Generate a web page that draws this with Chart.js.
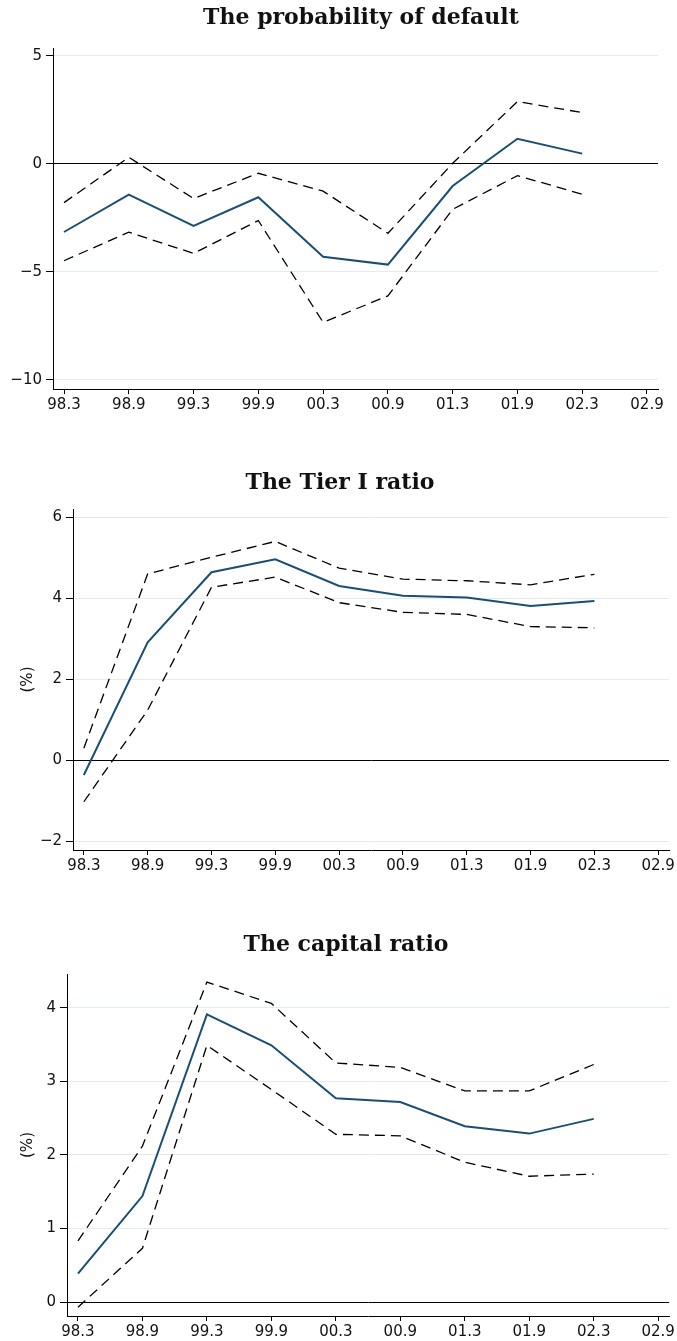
<!DOCTYPE html>
<html>
<head>
<meta charset="utf-8">
<script src="https://cdn.jsdelivr.net/npm/chart.js@4"></script>
<style>
  html, body { margin: 0; padding: 0; background: #fff; }
  .panel { position: absolute; left: 0; }
</style>
</head>
<body>
<canvas id="pdChart" class="panel" width="677" height="420" style="top:0px"></canvas>
<canvas id="tierChart" class="panel" width="677" height="420" style="top:460px"></canvas>
<canvas id="capChart" class="panel" width="677" height="421" style="top:920px"></canvas>
<script>
// x axis periods (last one has no data)
const periods = ['98.3', '98.9', '99.3', '99.9', '00.3', '00.9', '01.3', '01.9', '02.3', '02.9'];

// probability of default
const pdMean  = [-3.15, -1.42, -2.87, -1.54, -4.30, -4.66, -1.02, 1.17, 0.48];
const pdUpper = [-1.79, 0.31, -1.60, -0.43, -1.26, -3.21, 0.03, 2.89, 2.38];
const pdLower = [-4.48, -3.16, -4.14, -2.62, -7.33, -6.11, -2.10, -0.54, -1.40];
const pdTicks = [-10, -5, 0, 5];

// Tier I ratio
const tierMean  = [-0.36, 2.91, 4.64, 4.96, 4.30, 4.06, 4.02, 3.81, 3.93];
const tierUpper = [0.30, 4.60, 5.01, 5.40, 4.74, 4.47, 4.43, 4.33, 4.59];
const tierLower = [-1.02, 1.24, 4.27, 4.52, 3.89, 3.65, 3.60, 3.30, 3.27];
const tierTicks = [-2, 0, 2, 4, 6];

// capital ratio
const capMean  = [0.385, 1.44, 3.91, 3.49, 2.77, 2.72, 2.39, 2.29, 2.49];
const capUpper = [0.83, 2.12, 4.35, 4.06, 3.25, 3.19, 2.87, 2.87, 3.23];
const capLower = [-0.07, 0.73, 3.49, 2.89, 2.28, 2.26, 1.90, 1.71, 1.74];
const capTicks = [0, 1, 2, 3, 4];

const NAVY = '#1a4f73';
const GRID = '#e2ecf0';
const TICK_FONT = { family: 'DejaVu Sans', size: 15 };

// draws the panel heading where we want it, not centred on the canvas
const panelTitle = {
  id: 'panelTitle',
  afterDraw(chart, args, opts) {
    const ctx = chart.ctx;
    ctx.save();
    ctx.font = 'bold 22px "DejaVu Serif"';
    ctx.fillStyle = '#111';
    ctx.textAlign = 'center';
    ctx.textBaseline = 'middle';
    ctx.fillText(opts.text, opts.x, opts.y);
    ctx.restore();
  }
};

function points(values) {
  return values.map((v, i) => ({ x: i, y: v }));
}

function makePanel(id, cfg) {
  new Chart(document.getElementById(id), {
    type: 'line',
    data: {
      datasets: [
        { data: points(cfg.mean), borderColor: NAVY, borderWidth: 2, pointRadius: 0 },
        { data: points(cfg.upper), borderColor: '#000', borderWidth: 1.3, borderDash: [10, 6], pointRadius: 0 },
        { data: points(cfg.lower), borderColor: '#000', borderWidth: 1.3, borderDash: [10, 6], pointRadius: 0 }
      ]
    },
    options: {
      responsive: false,
      animation: false,
      devicePixelRatio: 1,
      layout: { padding: { top: cfg.padTop, right: cfg.padRight, left: 0, bottom: 0 } },
      plugins: {
        legend: { display: false },
        tooltip: { enabled: false },
        panelTitle: { text: cfg.title, x: cfg.titleX, y: cfg.titleY }
      },
      scales: {
        x: {
          type: 'linear',
          min: -0.17,
          max: 9.17,
          afterFit: s => { s.height = cfg.xHeight; },
          afterBuildTicks: s => { s.ticks = periods.map((_, i) => ({ value: i })); },
          ticks: {
            color: '#111',
            font: TICK_FONT,
            padding: 2,
            maxRotation: 0,
            autoSkip: false,
            callback: v => periods[v]
          },
          grid: { drawOnChartArea: false, tickLength: 5, tickColor: '#000' },
          border: { color: '#000', width: 1 }
        },
        y: {
          min: cfg.yMin,
          max: cfg.yMax,
          afterFit: s => { s.width = cfg.yWidth; },
          afterBuildTicks: s => { s.ticks = cfg.ticks.map(v => ({ value: v })); },
          ticks: {
            color: '#111',
            font: TICK_FONT,
            padding: 4,
            callback: v => String(v).replace('-', '\u2212')
          },
          grid: {
            color: c => (c.tick && c.tick.value === 0 ? '#000' : GRID),
            lineWidth: 1,
            tickLength: 7,
            tickColor: '#000'
          },
          border: { color: '#000', width: 1 },
          title: {
            display: !!cfg.yTitle,
            text: cfg.yTitle || '',
            color: '#111',
            font: TICK_FONT,
            padding: { top: 19, bottom: 0 }
          }
        }
      }
    },
    plugins: [panelTitle]
  });
}

makePanel('pdChart', {
  title: 'The probability of default', titleX: 361, titleY: 18,
  mean: pdMean, upper: pdUpper, lower: pdLower, ticks: pdTicks,
  yMin: -10.42, yMax: 5.37,
  padTop: 48, padRight: 19, yWidth: 53, xHeight: 31
});

makePanel('tierChart', {
  title: 'The Tier I ratio', titleX: 340, titleY: 23, yTitle: '(%)',
  mean: tierMean, upper: tierUpper, lower: tierLower, ticks: tierTicks,
  yMin: -2.21, yMax: 6.2,
  padTop: 49, padRight: 6, yWidth: 73, xHeight: 30
});

makePanel('capChart', {
  title: 'The capital ratio', titleX: 346, titleY: 25, yTitle: '(%)',
  mean: capMean, upper: capUpper, lower: capLower, ticks: capTicks,
  yMin: -0.19, yMax: 4.46,
  padTop: 54, padRight: 6, yWidth: 67, xHeight: 25
});
</script>
</body>
</html>
